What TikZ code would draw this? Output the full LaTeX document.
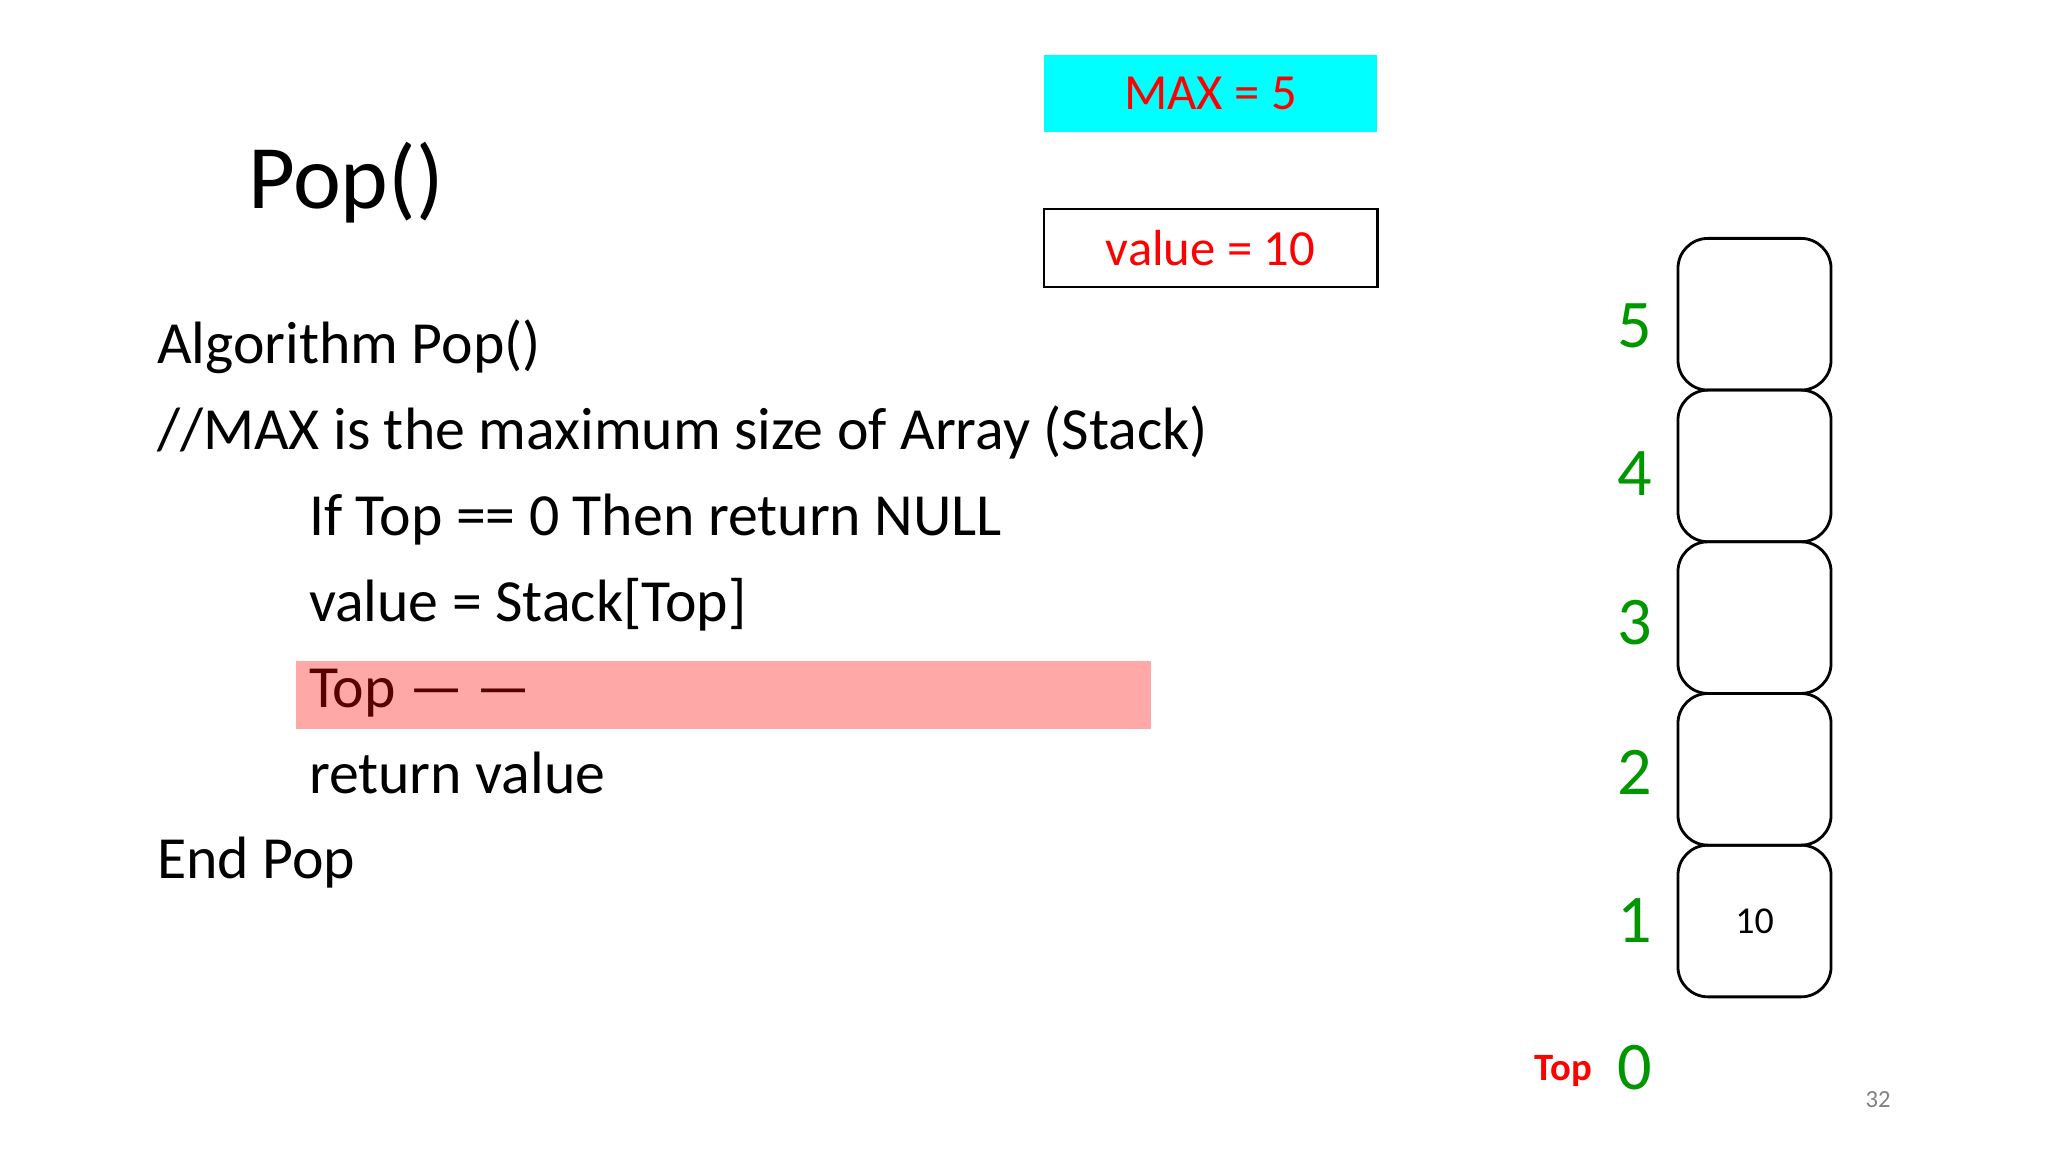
\documentclass[tikz,border=0pt]{standalone}
\usepackage{fontspec}
\setmainfont{Carlito}
\usepackage{tikz}
\usetikzlibrary{positioning}

\definecolor{idxgreen}{RGB}{0,150,0}
\definecolor{boxcyan}{RGB}{0,255,255}

\begin{document}
\begin{tikzpicture}[
        x=0.01cm, y=-0.01cm,
        every node/.style={inner sep=0pt, outer sep=0pt},
        codeline/.style={anchor=base west, font=\fontsize{17}{20}\selectfont},
        cell/.style={draw, thick, rounded corners=0.3cm, minimum width=1.53cm, minimum height=1.516cm, font=\fontsize{10.8}{13}\selectfont},
        idx/.style={text=idxgreen, font=\fontsize{19.4}{23}\selectfont},
        infobox/.style={minimum width=3.33cm, minimum height=0.77cm, text=red, font=\fontsize{14.4}{17}\selectfont}
    ]
  \useasboundingbox (0,0) rectangle (2048,1152);

  % Title and algorithm
  \node (title) [anchor=base west, font=\fontsize{25.8}{30}\selectfont] at (248,209) {Pop()};
  \node (algo) [codeline] at (157,364) {Algorithm Pop()};
  \node (comment) [codeline] at (157,450) {//MAX is the maximum size of Array (Stack)};
  \node (iftop) [codeline] at (309,536) {If Top == 0 Then return NULL};
  \node (assign) [codeline] at (309,621) {value = Stack[Top]};
  \node (dec) [codeline] at (309,707) {Top — —};
  \node (ret) [codeline] at (309,793) {return value};
  \node (endpop) [codeline] at (157,878) {End Pop};
  \node (hilite) [fill=red, fill opacity=.34, minimum width=8.55cm, minimum height=0.68cm] at (723.5,695) {};

  % Boxes
  \node (maxbox) [infobox, fill=boxcyan] at (1210.5,93.5) {MAX = 5};
  \node (valbox) [infobox, draw, line width=0.8pt, minimum height=0.78cm] at (1210.5,248) {value = 10};

  % Stack
  \node (cell1) [cell] at (1754.5,921) {10};
  \node (cell2) [cell, above=0pt of cell1] {};
  \node (cell3) [cell, above=0pt of cell2] {};
  \node (cell4) [cell, above=0pt of cell3] {};
  \node (cell5) [cell, above=0pt of cell4] {};

  \node (idx5) [idx] at (1635,326) {5};
  \node (idx4) [idx] at (1635,474) {4};
  \node (idx3) [idx] at (1635,623) {3};
  \node (idx2) [idx] at (1635,772) {2};
  \node (idx1) [idx] at (1635,921) {1};
  \node (idx0) [idx] at (1635,1068) {0};
  \node (toplbl) [anchor=base east, text=red, font=\bfseries\fontsize{11}{13}\selectfont] at (1592,1080) {Top};

  \node (pageno) [text=gray, font=\fontsize{7}{8}\selectfont] at (1878,1100) {32};
\end{tikzpicture}
\end{document}
